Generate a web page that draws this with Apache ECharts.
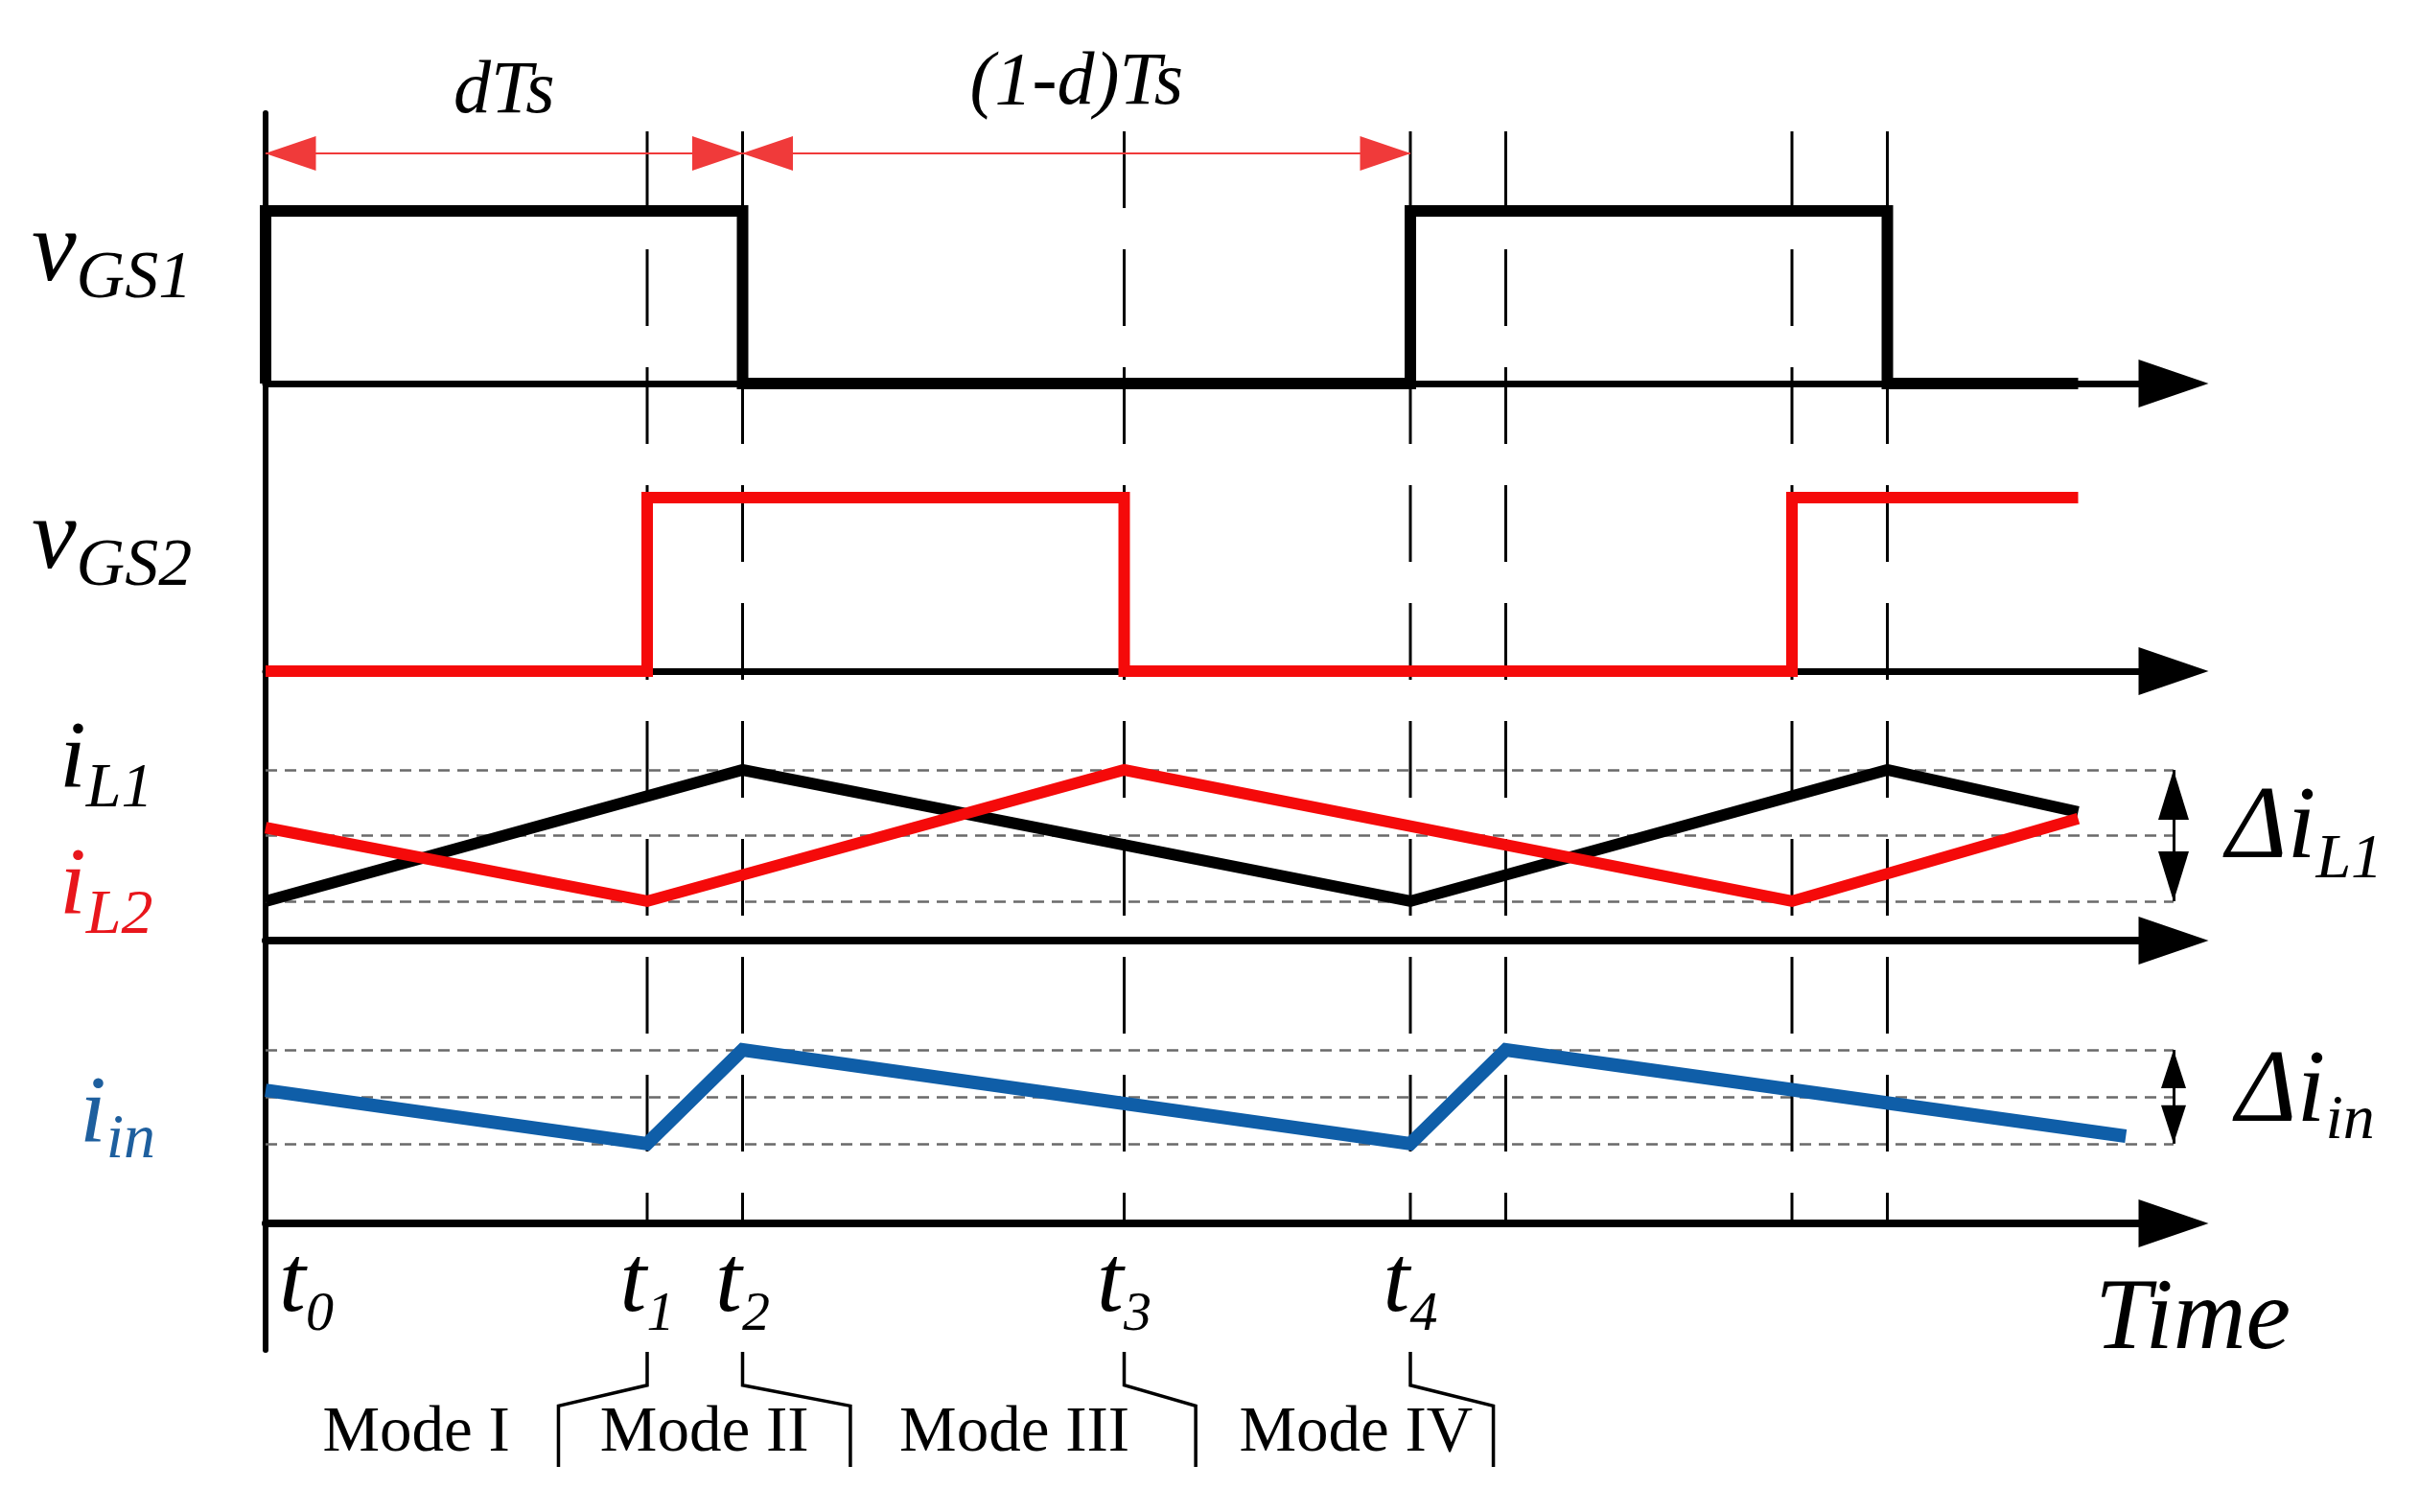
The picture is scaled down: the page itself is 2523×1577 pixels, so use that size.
<!DOCTYPE html>
<html>
<head>
<meta charset="utf-8">
<title>Interleaved boost timing diagram</title>
<script src="https://cdn.jsdelivr.net/npm/echarts@6/dist/echarts.min.js"></script>
<style>
  html, body { margin: 0; background: #fff; }
  #chart { width: 2523px; height: 1577px; }
</style>
</head>
<body>
<div id="chart"></div>
<script>
// time unit = Ts / 12, t0 = 0
const timeMax = 20;
const instants = [0, 4, 5, 9, 12];                 // t0 .. t4
const guideTimes = [4, 5, 9, 12, 13, 16, 17];      // dashed guides

// gate signals (0 = off, 1 = on)
const vgs1Time = [0, 0, 5, 5, 12, 12, 17, 17, 19];
const vgs1Level = [0, 1, 1, 0, 0, 1, 1, 0, 0];
const vgs2Time = [0, 4, 4, 9, 9, 16, 16, 19];
const vgs2Level = [0, 0, 1, 1, 0, 0, 1, 1];

// inductor currents, normalised to ripple (0 = valley, 1 = peak)
const iL1Time = [0, 5, 12, 17, 19];
const iL1Value = [0, 1, 0, 1, 0.68];
const iL2Time = [0, 4, 9, 16, 19];
const iL2Value = [0.56, 0, 1, 0, 0.63];
const iLLevels = [0, 0.5, 1];

// input current
const iinTime = [0, 4, 5, 12, 13, 19.5];
const iinValue = [0.57, 0, 1, 0, 1, 0.08];
const iinLevels = [0, 0.5, 1];

// dTs / (1-d)Ts dimension arrows
const spanNames = ['dTs', '(1-d)Ts'];
const spanStart = [0, 5];
const spanEnd = [5, 12];

// operating modes
const modeNames = ['Mode I', 'Mode II', 'Mode III', 'Mode IV'];
const modeCenters = [1.58, 4.6, 7.85, 11.43];
const bracketFrom = [4, 5, 9, 12];
const bracketTo = [3.07, 6.13, 9.75, 12.87];

const SERIF = '"Liberation Serif", "Times New Roman", serif';
const RED = '#f50a0a';
const BLUE = '#0f5ea8';
const GRAY = '#6a6a6a';

const pts = (xs, ys) => xs.map((x, i) => [x, ys[i]]);

// grid boxes (pixels): frame, guides, spans, vGS1, vGS2, iL, iin, modes
const boxes = [
  { top: 118, height: 1290 },
  { top: 137, height: 1139 },
  { top: 100, height: 60 },
  { top: 220, height: 180 },
  { top: 519, height: 181 },
  { top: 803, height: 178 },
  { top: 1095, height: 181 },
  { top: 1410, height: 120 }
];
const yRange = [
  [0, 1, false], [0, 1, true], [0, 1, false], [0, 1, false],
  [0, 1, false], [-0.3, 1, false], [-0.85, 1, false], [0, 1, true]
];
const signalGrids = [3, 4, 5, 6];

const grid = boxes.map(b => ({
  left: 277, right: 256, top: b.top, height: b.height,
  outerBoundsMode: 'none', containLabel: false
}));

const xAxis = boxes.map((b, i) => {
  const isSignal = signalGrids.includes(i);
  const ax = {
    gridIndex: i, type: 'value', min: 0, max: timeMax, show: isSignal,
    axisLine: {
      show: isSignal, onZero: false,
      symbol: ['none', 'triangle'], symbolSize: [50, 73],
      lineStyle: { color: '#000', width: i >= 5 ? 8 : 7 }
    },
    axisTick: { show: false },
    axisLabel: { show: false },
    splitLine: { show: false }
  };
  if (i === 6) {
    const tStyle = { fontSize: 100, lineHeight: 100, fontFamily: SERIF, fontStyle: 'italic', color: '#000', verticalAlign: 'top' };
    ax.axisLabel = {
      show: true,
      customValues: instants,
      margin: 15,
      formatter: v => {
        const k = instants.indexOf(v);
        return (k === 0 ? '{tp|t}' : '{t|t}') + '{s|' + k + '}';
      },
      rich: {
        t: tStyle,
        tp: Object.assign({}, tStyle, { padding: [0, 0, 0, 85] }),
        s: { fontSize: 58, lineHeight: 58, padding: [52, 0, 0, 0], fontFamily: SERIF, fontStyle: 'italic', color: '#000', verticalAlign: 'top' }
      }
    };
  }
  return ax;
});

const yAxis = yRange.map((r, i) => ({
  gridIndex: i, type: 'value', min: r[0], max: r[1], inverse: r[2],
  show: i === 0,
  axisLine: { show: i === 0, onZero: false, lineStyle: { color: '#000', width: 6 } },
  axisTick: { show: false },
  axisLabel: { show: false },
  splitLine: { show: false }
}));

const series = [];

// vertical dashed guide lines
guideTimes.forEach(t => {
  series.push({
    type: 'line', xAxisIndex: 1, yAxisIndex: 1, data: [[t, 0], [t, 1]],
    symbol: 'none', z: 1, silent: true,
    lineStyle: { color: '#000', width: 3, type: [80, 43] }
  });
});

// dTs and (1-d)Ts arrows
series.push({
  type: 'line', xAxisIndex: 2, yAxisIndex: 2, data: [], symbol: 'none',
  markLine: {
    silent: true, animation: false,
    symbol: ['triangle', 'triangle'], symbolSize: [36, 53],
    symbolOffset: [[0, 26], [0, 26]],
    lineStyle: { color: '#f03a3a', width: 2, type: 'solid' },
    label: {
      show: true, position: 'middle', formatter: '{b}', color: '#000',
      fontFamily: SERIF, fontStyle: 'italic', fontSize: 78
    },
    data: spanNames.map((n, i) => [
      { name: n, coord: [spanStart[i], 0], label: { distance: i === 0 ? 25 : 34 } },
      { coord: [spanEnd[i], 0] }
    ])
  }
});

function wave(grid, data, color, width, extra) {
  return Object.assign({
    type: 'line', xAxisIndex: grid, yAxisIndex: grid, data: data,
    symbol: 'none', clip: false, z: 3, silent: true,
    lineStyle: { color: color, width: width, join: 'miter', cap: 'butt' }
  }, extra || {});
}

function levelLines(levels) {
  return {
    silent: true, animation: false, symbol: 'none', z: 1,
    label: { show: false },
    lineStyle: { color: GRAY, width: 2.5, type: [12, 8] },
    data: levels.map(v => ({ yAxis: v }))
  };
}

function deltaArrow(grid, lo, hi, size) {
  const off = [0, size[1] / 2];
  return {
    type: 'line', xAxisIndex: grid, yAxisIndex: grid, data: [], symbol: 'none',
    markLine: {
      silent: true, animation: false,
      symbol: ['triangle', 'triangle'], symbolSize: size, symbolOffset: [off, off],
      label: { show: false },
      lineStyle: { color: '#000', width: 3, type: 'solid' },
      data: [[{ coord: [timeMax, lo] }, { coord: [timeMax, hi] }]]
    }
  };
}

series.push(wave(3, pts(vgs1Time, vgs1Level), '#000', 12));
series.push(wave(4, pts(vgs2Time, vgs2Level), RED, 12));
series.push(wave(5, pts(iL1Time, iL1Value), '#000', 12, { markLine: levelLines(iLLevels) }));
series.push(wave(5, pts(iL2Time, iL2Value), RED, 12));
series.push(deltaArrow(5, iLLevels[0], iLLevels[2], [32, 52]));
series.push(wave(6, pts(iinTime, iinValue), BLUE, 14, { markLine: levelLines(iinLevels) }));
series.push(deltaArrow(6, iinLevels[0], iinLevels[2], [26, 40]));

// mode brackets
bracketFrom.forEach((t, i) => {
  series.push({
    type: 'line', xAxisIndex: 7, yAxisIndex: 7, symbol: 'none', silent: true, clip: false,
    data: [[t, 0], [t, 0.29], [bracketTo[i], 0.47], [bracketTo[i], 1]],
    lineStyle: { color: '#000', width: 3.5, join: 'miter' }
  });
});

// mode names
series.push({
  type: 'scatter', xAxisIndex: 7, yAxisIndex: 7, symbolSize: 1, silent: true,
  itemStyle: { color: 'rgba(0,0,0,0)', opacity: 1 },
  data: modeNames.map((n, i) => ({ name: n, value: [modeCenters[i], 0.71] })),
  label: {
    show: true, position: 'inside', formatter: '{b}', opacity: 1,
    color: '#000', textBorderWidth: 0, fontFamily: SERIF, fontSize: 67
  }
});

function subText(left, top, main, sub, color, mainSize, subSize, drop) {
  return {
    type: 'text', left: left, top: top, silent: true,
    style: {
      text: '{m|' + main + '}{s|' + sub + '}',
      rich: {
        m: { fontSize: mainSize, lineHeight: mainSize, fontFamily: SERIF, fontStyle: 'italic', fill: color, verticalAlign: 'top' },
        s: { fontSize: subSize, lineHeight: subSize, padding: [drop, 0, 0, 0], fontFamily: SERIF, fontStyle: 'italic', fill: color, verticalAlign: 'top' }
      }
    }
  };
}

const graphic = [
  subText(33, 212, 'v', 'GS1', '#000', 105, 70, 45),
  subText(33, 512, 'v', 'GS2', '#000', 105, 70, 45),
  subText(62, 744, 'i', 'L1', '#000', 100, 66, 47),
  subText(62, 876, 'i', 'L2', '#e8161c', 100, 66, 47),
  subText(83, 1114, 'i', 'in', '#1e5f9e', 100, 66, 43),
  subText(2322, 812, 'Δi', 'L1', '#000', 108, 66, 53),
  subText(2332, 1087, 'Δi', 'in', '#000', 108, 66, 50),
  {
    type: 'text', left: 2185, top: 1326, silent: true,
    style: { text: 'Time', fontSize: 105, fontFamily: SERIF, fontStyle: 'italic', fill: '#000' }
  }
];

const chart = echarts.init(document.getElementById('chart'));
chart.setOption({
  animation: false,
  backgroundColor: '#fff',
  textStyle: { fontFamily: SERIF },
  grid: grid,
  xAxis: xAxis,
  yAxis: yAxis,
  series: series,
  graphic: graphic
});
</script>
</body>
</html>
